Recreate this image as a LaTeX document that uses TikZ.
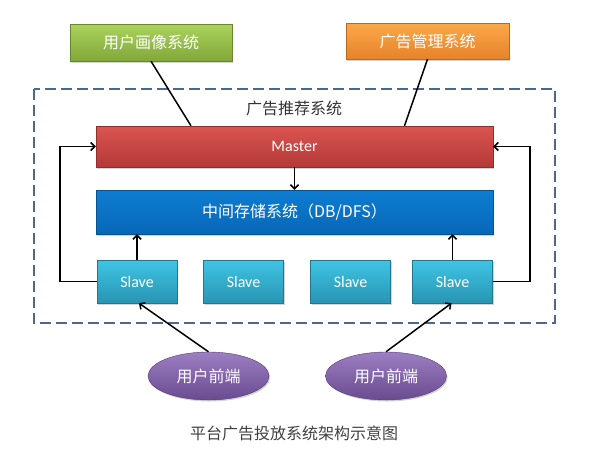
\documentclass[tikz,border=0pt]{standalone}
\usepackage{fontspec}
\setmainfont{Carlito}
\newfontfamily\cjk{Noto Sans CJK SC}
\usetikzlibrary{shapes.geometric,shadows,arrows.meta,calc}
\definecolor{dashc}{HTML}{4A6890}
\tikzset{
  boxbase/.style={draw=#1!80!black, line width=0.4pt, inner sep=0pt, text=white,
    drop shadow={shadow xshift=1.2pt, shadow yshift=-1.5pt, opacity=0.35}},
  conn/.style={line width=1.5pt, black},
  arr/.style={conn, -{Straight Barb[length=4pt,width=8pt,line width=1.5pt]}},
  cjktext/.style={font=\cjk\fontsize{16}{19}\selectfont},
  latintext/.style={font=\fontsize{16}{19}\selectfont},
}
\definecolor{gtop}{HTML}{AAD45C}\definecolor{gbot}{HTML}{82A73A}
\definecolor{otop}{HTML}{FBA849}\definecolor{obot}{HTML}{E7832A}
\definecolor{rtop}{HTML}{DB5451}\definecolor{rbot}{HTML}{B33A37}
\definecolor{btop}{HTML}{0E7DD0}\definecolor{bbot}{HTML}{0767B8}
\definecolor{stop}{HTML}{40C4E4}\definecolor{sbot}{HTML}{2895B3}
\definecolor{ptop}{HTML}{9C7EC2}\definecolor{pbot}{HTML}{6A4B90}
\begin{document}
\begin{tikzpicture}[x=1pt,y=-1pt]
\useasboundingbox (0,0) rectangle (595,459);
\draw[dashc, line width=1.8pt, dash pattern=on 11pt off 5pt] (34,89) rectangle (555,323);
\node[cjktext, text=black!80] (title) at (294,108) {广告推荐系统};
\node[boxbase=gbot, top color=gtop, bottom color=gbot, minimum width=162pt, minimum height=37pt, cjktext] (green) at (151,42.5) {用户画像系统};
\node[boxbase=obot, top color=otop, bottom color=obot, minimum width=163pt, minimum height=36pt, cjktext] (orange) at (427.5,41) {广告管理系统};
\node[boxbase=rbot, top color=rtop, bottom color=rbot, minimum width=397pt, minimum height=41pt, latintext] (master) at (294.5,146.5) {Master};
\node[boxbase=bbot, top color=btop, bottom color=bbot, minimum width=397pt, minimum height=44pt, cjktext] (db) at (294.5,212) {中间存储系统（DB/DFS）};
\foreach \n/\x in {s1/137, s2/243.5, s3/350.5, s4/452.5}{
  \node[boxbase=sbot, top color=stop, bottom color=sbot, minimum width=80pt, minimum height=43pt, latintext] (\n) at (\x,281.5) {Slave};
}
\node[ellipse, boxbase=pbot, top color=ptop, bottom color=pbot, minimum width=121pt, minimum height=48pt, cjktext] (e1) at (208.5,376) {用户前端};
\node[ellipse, boxbase=pbot, top color=ptop, bottom color=pbot, minimum width=121pt, minimum height=48pt, cjktext] (e2) at (386,376) {用户前端};
\node[cjktext, text=black!75] (cap) at (294,433) {平台广告投放系统架构示意图};
% connectors
\draw[conn] (green.south) -- ([xshift=-103.5pt]master.north);
\draw[conn] (orange.south) -- ([xshift=110pt]master.north);
\draw[arr] (master.south) -- (db.north);
\draw[arr] (s1.north) -- (s1.north |- db.south);
\draw[arr] (s4.north) -- (s4.north |- db.south);
\draw[arr] (s1.west) -- ++(-37,0) |- (master.west);
\draw[arr] (s4.east) -- ++(37.5,0) |- (master.east);
\draw[arr] (e1.north) -- ([xshift=2pt]s1.south);
\draw[arr] (e2.north) -- ([xshift=-1pt]s4.south);
\end{tikzpicture}
\end{document}
